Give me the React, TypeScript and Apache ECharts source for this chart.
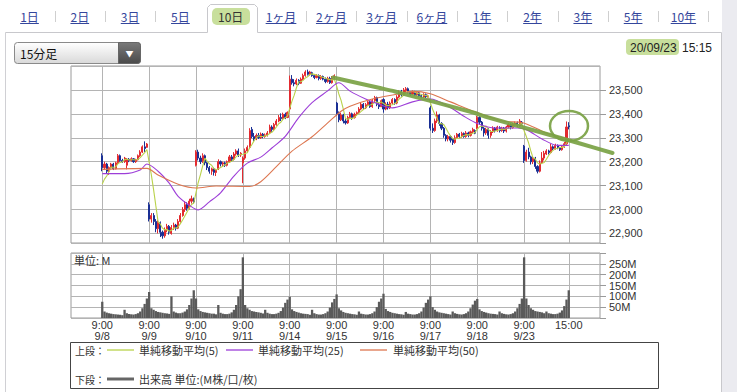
import React, { useEffect, useRef } from 'react';
import * as echarts from 'echarts';

// ---------- data ----------
const DAYS = ['9/8', '9/9', '9/10', '9/11', '9/14', '9/15', '9/16', '9/17', '9/18', '9/23'];
const TIMES = ['9:00', '9:15', '9:30', '9:45', '10:00', '10:15', '10:30', '10:45', '11:00', '11:15',
  '12:30', '12:45', '13:00', '13:15', '13:30', '13:45', '14:00', '14:15', '14:30', '14:45', '15:00'];
const PAD_BEFORE = 14;
const PAD_AFTER = 14;

const TAB_LABELS = ['1日', '2日', '3日', '5日', '10日', '1ヶ月', '2ヶ月', '3ヶ月', '6ヶ月', '1年', '2年', '3年', '5年', '10年'];
const ACTIVE_TAB = '10日';
const PERIOD_LABEL = '15分足';
const DATE_LABEL = '20/09/23';
const TIME_LABEL = '15:15';
const LEGEND_UPPER = ['単純移動平均(5)', '単純移動平均(25)', '単純移動平均(50)'];
const LEGEND_LOWER = '出来高 単位:(M株/口/枚)';

// closes of the last bars of 9/7 (needed for the first MA5 values)
const PRIOR_CLOSES = [23090, 23095, 23085, 23092];

// [open, close, low, high]
const OHLC_0908 = [
  [23225, 23175, 23160, 23235], [23175, 23190, 23165, 23200], [23190, 23160, 23150, 23195], [23160, 23175, 23145, 23180],
  [23175, 23190, 23168, 23195], [23190, 23170, 23165, 23195], [23170, 23195, 23168, 23200], [23195, 23225, 23190, 23232],
  [23225, 23205, 23200, 23230], [23205, 23200, 23195, 23212], [23200, 23215, 23195, 23220], [23185, 23210, 23168, 23215],
  [23210, 23205, 23198, 23215], [23205, 23212, 23200, 23218], [23212, 23200, 23195, 23215], [23200, 23208, 23195, 23212],
  [23208, 23225, 23205, 23230], [23225, 23240, 23220, 23248], [23240, 23262, 23236, 23268], [23262, 23255, 23240, 23285],
  [23260, 23274, 23258, 23278],
];
const OHLC_0909 = [
  [23020, 22960, 22950, 23030], [22960, 22975, 22945, 22985], [22975, 22950, 22935, 22985], [22950, 22920, 22905, 22960],
  [22920, 22945, 22900, 22955], [22945, 22905, 22885, 22950], [22905, 22890, 22878, 22912], [22890, 22915, 22882, 22925],
  [22915, 22930, 22905, 22940], [22930, 22905, 22895, 22935], [22900, 22925, 22895, 22935], [22925, 22935, 22915, 22945],
  [22935, 22922, 22912, 22940], [22922, 22950, 22918, 22960], [22950, 22975, 22945, 22985], [22975, 23000, 22970, 23010],
  [23000, 23020, 22990, 23035], [23020, 23005, 22995, 23030], [23005, 23035, 23000, 23045], [23035, 23045, 23025, 23058],
  [23045, 23032, 23025, 23050],
];
const OHLC_0910 = [
  [23185, 23240, 23180, 23248], [23240, 23215, 23205, 23250], [23215, 23200, 23190, 23225], [23200, 23225, 23195, 23235],
  [23225, 23195, 23185, 23230], [23195, 23175, 23165, 23200], [23175, 23160, 23150, 23182], [23160, 23170, 23145, 23175],
  [23170, 23155, 23142, 23175], [23155, 23165, 23140, 23170], [23170, 23200, 23165, 23210], [23200, 23190, 23180, 23205],
  [23190, 23195, 23180, 23200], [23195, 23185, 23178, 23200], [23185, 23200, 23180, 23205], [23200, 23220, 23195, 23228],
  [23220, 23210, 23200, 23228], [23210, 23232, 23205, 23240], [23232, 23245, 23225, 23252], [23245, 23228, 23220, 23255],
  [23228, 23235, 23220, 23240],
];
const OHLC_0911 = [
  [23195, 23215, 23110, 23222], [23215, 23245, 23208, 23255], [23245, 23260, 23240, 23268], [23260, 23330, 23255, 23340],
  [23335, 23305, 23298, 23345], [23305, 23295, 23285, 23320], [23295, 23310, 23290, 23318], [23310, 23300, 23295, 23320],
  [23300, 23315, 23295, 23322], [23315, 23305, 23298, 23320], [23305, 23312, 23300, 23318], [23312, 23320, 23305, 23328],
  [23320, 23345, 23315, 23355], [23345, 23335, 23325, 23352], [23335, 23355, 23330, 23362], [23355, 23370, 23350, 23378],
  [23370, 23385, 23365, 23395], [23385, 23380, 23370, 23402], [23380, 23398, 23375, 23405], [23398, 23385, 23378, 23405],
  [23385, 23406, 23382, 23410],
];
const OHLC_0914 = [
  [23420, 23545, 23410, 23560], [23545, 23530, 23522, 23562], [23530, 23525, 23515, 23545], [23525, 23540, 23520, 23548],
  [23540, 23528, 23520, 23545], [23528, 23545, 23525, 23552], [23545, 23560, 23540, 23568], [23560, 23575, 23555, 23582],
  [23575, 23565, 23560, 23585], [23565, 23575, 23560, 23580], [23572, 23560, 23555, 23576], [23560, 23552, 23545, 23565],
  [23552, 23560, 23548, 23566], [23560, 23548, 23540, 23565], [23548, 23556, 23542, 23562], [23556, 23545, 23540, 23560],
  [23545, 23535, 23528, 23552], [23535, 23548, 23530, 23555], [23548, 23530, 23525, 23555], [23530, 23550, 23526, 23558],
  [23550, 23559, 23545, 23565],
];
const OHLC_0915 = [
  [23445, 23400, 23392, 23450], [23400, 23375, 23365, 23410], [23375, 23395, 23370, 23405], [23395, 23370, 23360, 23400],
  [23370, 23362, 23355, 23380], [23362, 23385, 23358, 23392], [23385, 23400, 23378, 23408], [23400, 23385, 23375, 23405],
  [23385, 23398, 23380, 23405], [23398, 23405, 23392, 23410], [23405, 23420, 23400, 23428], [23420, 23440, 23415, 23448],
  [23440, 23425, 23418, 23445], [23425, 23438, 23420, 23445], [23438, 23450, 23432, 23455], [23450, 23430, 23425, 23455],
  [23430, 23455, 23425, 23462], [23455, 23468, 23450, 23475], [23468, 23440, 23432, 23472], [23440, 23430, 23420, 23448],
  [23430, 23455, 23428, 23460],
];
const OHLC_0916 = [
  [23460, 23420, 23405, 23465], [23420, 23440, 23415, 23448], [23440, 23425, 23418, 23450], [23425, 23445, 23420, 23452],
  [23445, 23460, 23440, 23466], [23460, 23445, 23438, 23465], [23445, 23470, 23440, 23478], [23470, 23490, 23465, 23498],
  [23490, 23480, 23472, 23500], [23480, 23500, 23475, 23508], [23498, 23505, 23490, 23512], [23505, 23490, 23485, 23510],
  [23490, 23482, 23475, 23495], [23482, 23492, 23478, 23498], [23492, 23480, 23474, 23496], [23480, 23488, 23476, 23494],
  [23488, 23476, 23470, 23492], [23476, 23470, 23465, 23482], [23470, 23480, 23466, 23486], [23480, 23472, 23466, 23485],
  [23472, 23475, 23468, 23480],
];
const OHLC_0917 = [
  [23425, 23340, 23330, 23432], [23340, 23330, 23320, 23360], [23330, 23370, 23325, 23380], [23370, 23395, 23362, 23410],
  [23395, 23360, 23350, 23400], [23360, 23340, 23332, 23365], [23340, 23310, 23300, 23345], [23310, 23295, 23285, 23315],
  [23295, 23305, 23285, 23312], [23305, 23290, 23280, 23310], [23295, 23280, 23270, 23300], [23280, 23300, 23275, 23310],
  [23300, 23315, 23295, 23320], [23315, 23305, 23298, 23320], [23305, 23318, 23300, 23325], [23318, 23305, 23300, 23322],
  [23305, 23320, 23300, 23328], [23320, 23310, 23302, 23325], [23310, 23325, 23305, 23330], [23325, 23335, 23318, 23342],
  [23330, 23319, 23315, 23335],
];
const OHLC_0918 = [
  [23340, 23385, 23335, 23392], [23385, 23365, 23355, 23390], [23365, 23340, 23330, 23370], [23340, 23320, 23305, 23345],
  [23320, 23335, 23312, 23342], [23335, 23310, 23296, 23340], [23310, 23325, 23300, 23332], [23325, 23340, 23320, 23348],
  [23340, 23330, 23322, 23345], [23330, 23345, 23325, 23350], [23342, 23330, 23322, 23348], [23330, 23340, 23325, 23346],
  [23340, 23328, 23320, 23345], [23328, 23345, 23322, 23350], [23345, 23355, 23340, 23362], [23355, 23342, 23335, 23360],
  [23342, 23355, 23338, 23362], [23355, 23362, 23350, 23368], [23362, 23350, 23345, 23368], [23350, 23370, 23345, 23378],
  [23365, 23360, 23352, 23370],
];
const OHLC_0923 = [
  [23265, 23205, 23195, 23270], [23205, 23240, 23200, 23250], [23240, 23220, 23210, 23258], [23220, 23200, 23188, 23225],
  [23200, 23215, 23190, 23222], [23215, 23180, 23170, 23220], [23180, 23160, 23151, 23185], [23160, 23195, 23155, 23205],
  [23195, 23215, 23190, 23240], [23215, 23235, 23205, 23245], [23232, 23245, 23228, 23252], [23245, 23238, 23230, 23250],
  [23238, 23262, 23235, 23275], [23262, 23255, 23248, 23268], [23255, 23268, 23250, 23275], [23268, 23258, 23252, 23272],
  [23258, 23250, 23245, 23262], [23250, 23262, 23246, 23268], [23262, 23275, 23258, 23282], [23275, 23345, 23270, 23368],
  [23350, 23346, 23335, 23365],
];

// volume in millions
const VOL_0908 = [75, 30, 25, 22, 20, 18, 17, 16, 15, 13, 38, 22, 19, 17, 16, 18, 22, 30, 45, 65, 90];
const VOL_0909 = [120, 45, 38, 32, 28, 26, 24, 22, 21, 19, 100, 30, 25, 22, 22, 25, 30, 40, 60, 90, 128];
const VOL_0910 = [90, 40, 32, 28, 26, 24, 22, 20, 20, 17, 60, 24, 20, 18, 18, 20, 26, 38, 60, 100, 133];
const VOL_0911 = [280, 60, 45, 38, 32, 30, 28, 26, 24, 21, 38, 24, 20, 18, 18, 20, 24, 32, 48, 70, 85];
const VOL_0914 = [98, 40, 32, 28, 25, 22, 20, 19, 18, 15, 38, 22, 18, 16, 16, 18, 22, 30, 48, 72, 88];
const VOL_0915 = [109, 45, 35, 28, 24, 22, 20, 18, 17, 15, 30, 20, 18, 16, 16, 18, 22, 30, 50, 75, 90];
const VOL_0916 = [112, 42, 32, 28, 24, 22, 20, 18, 17, 15, 28, 20, 18, 16, 16, 18, 22, 30, 48, 70, 85];
const VOL_0917 = [100, 50, 38, 30, 26, 24, 22, 20, 18, 16, 30, 22, 19, 17, 16, 18, 22, 30, 45, 62, 80];
const VOL_0918 = [88, 40, 32, 28, 25, 22, 20, 19, 18, 16, 30, 22, 19, 17, 16, 18, 22, 30, 45, 65, 90];
const VOL_0923 = [280, 90, 60, 45, 38, 32, 30, 28, 26, 22, 30, 22, 20, 18, 18, 20, 25, 35, 55, 85, 128];

// moving averages: [bar index from 9/8 9:00, value]
const MA25_POINTS = [
  [0, 23150], [10, 23150], [17, 23165], [20, 23190], [25, 23160], [30, 23110], [34, 23055], [39, 23018],
  [43, 22998], [48, 23032], [53, 23070], [59, 23140], [65, 23194], [71, 23219], [76, 23257], [82, 23306],
  [88, 23384], [94, 23447], [101, 23496], [106, 23530], [111, 23495], [118, 23462], [124, 23440], [130, 23425],
  [139, 23450], [147, 23462], [155, 23432], [162, 23390], [168, 23360], [176, 23341], [186, 23341], [190, 23334],
  [197, 23295], [204, 23268], [209, 23268],
];
const MA50_POINTS = [
  [0, 23168], [20, 23172], [25, 23144], [34, 23106], [42, 23090], [51, 23098], [66, 23096], [71, 23116],
  [78, 23179], [85, 23244], [94, 23304], [101, 23362], [107, 23411], [111, 23432], [121, 23462], [132, 23482],
  [139, 23494], [147, 23484], [156, 23450], [168, 23405], [180, 23369], [188, 23364], [199, 23320], [209, 23295],
];

// ---------- derived tables ----------
const OHLC_BY_DAY = [OHLC_0908, OHLC_0909, OHLC_0910, OHLC_0911, OHLC_0914, OHLC_0915, OHLC_0916, OHLC_0917, OHLC_0918, OHLC_0923];
const VOL_BY_DAY = [VOL_0908, VOL_0909, VOL_0910, VOL_0911, VOL_0914, VOL_0915, VOL_0916, VOL_0917, VOL_0918, VOL_0923];

const NFONT = '"Liberation Sans", Arial, sans-serif';
const JFONT = '"Noto Sans CJK JP", "Noto Sans", sans-serif';

function buildOption() {
  const bars: { day: string; time: string }[] = [];
  DAYS.forEach((d) => TIMES.forEach((t) => bars.push({ day: d, time: t })));
  const ohlc = OHLC_BY_DAY.flat();
  const vols = VOL_BY_DAY.flat();
  const n = bars.length;
  const total = PAD_BEFORE + n + PAD_AFTER;

  const categories: string[] = [];
  for (let i = 0; i < PAD_BEFORE; i++) categories.push('pre' + i);
  bars.forEach((b) => categories.push(b.day + ' ' + b.time));
  for (let i = 0; i < PAD_AFTER; i++) categories.push('post' + i);

  const labelMap = new Map<number, string>();
  bars.forEach((b, i) => {
    if (b.time === '9:00') labelMap.set(PAD_BEFORE + i, '9:00\n' + b.day);
  });
  labelMap.set(PAD_BEFORE + n - 1, bars[n - 1].time);

  const empty = (k: number) => Array.from({ length: k }, () => '-' as any);
  const candleData = [...empty(PAD_BEFORE).map(() => ['-', '-', '-', '-']), ...ohlc, ...empty(PAD_AFTER).map(() => ['-', '-', '-', '-'])];
  const volData = [...empty(PAD_BEFORE), ...vols, ...empty(PAD_AFTER)];

  const closes = [...PRIOR_CLOSES, ...ohlc.map((b) => b[1])];
  const ma5: any[] = empty(total);
  for (let i = 0; i < n; i++) {
    let s = 0;
    for (let k = 0; k < 5; k++) s += closes[i + k];
    ma5[PAD_BEFORE + i] = Math.round(s / 5);
  }
  const sparse = (pts: number[][]) => {
    const arr: any[] = empty(total);
    pts.forEach(([i, v]) => (arr[PAD_BEFORE + i] = v));
    return arr;
  };

  const showAt = (idx: number) => labelMap.has(idx);
  const gridLineColor = '#b4b4b4';

  const xAxisBase = (gridIndex: number) => ({
    type: 'category',
    gridIndex,
    data: categories,
    boundaryGap: false,
    axisLine: { show: false },
    axisTick: { show: false },
    splitLine: { show: true, interval: (i: number) => showAt(i), lineStyle: { color: gridLineColor, width: 1 } },
  });

  // ---------- graphic (page chrome, legend, annotations) ----------
  const g: any[] = [];
  const txt = (text: string, x: number, y: number, o: any = {}) => ({
    type: 'text', x, y, z: o.z ?? 10,
    style: {
      text, fill: o.fill ?? '#333', fontSize: o.fontSize ?? 11, fontFamily: o.fontFamily ?? JFONT,
      fontWeight: o.fontWeight ?? 'normal',
      textAlign: o.align ?? 'left', textVerticalAlign: 'middle', align: o.align ?? 'left', verticalAlign: 'middle',
    },
  });
  const line = (x1: number, y1: number, x2: number, y2: number, stroke: string, lineWidth = 1, z = 10) => ({
    type: 'line', z, shape: { x1, y1, x2, y2 }, style: { stroke, lineWidth },
  });

  // right strip and panel borders
  g.push({ type: 'rect', z: 1, shape: { x: 722, y: 0, width: 15, height: 392 }, style: { fill: '#ebebf0' } });
  g.push(line(721.5, 32.5, 721.5, 392, '#c8c8cc'));
  g.push(line(5.5, 32.5, 5.5, 392, '#d0d0d4'));
  g.push(line(5.5, 32.5, 207.5, 32.5, '#c8c8cc'));
  g.push(line(257.5, 32.5, 721.5, 32.5, '#c8c8cc'));
  g.push({
    type: 'polyline', z: 10,
    shape: { points: [[207.5, 32.5], [207.5, 7.5], [210.5, 4.5], [254.5, 4.5], [257.5, 7.5], [257.5, 32.5]] },
    style: { stroke: '#c8c8cc', lineWidth: 1, fill: 'none' },
  });

  // tabs
  const tabCx = (i: number) => 29.5 + i * 50.3;
  const approxW = (s: string) => Array.from(s).reduce((a, c) => a + (/[0-9]/.test(c) ? 6.7 : 12), 0);
  TAB_LABELS.forEach((t, i) => {
    const cx = tabCx(i);
    if (t === ACTIVE_TAB) {
      g.push({ type: 'rect', z: 9, shape: { x: 212, y: 8, width: 38, height: 17, r: 5 }, style: { fill: '#c8df9c' } });
      g.push(txt(t, cx, 16, { align: 'center', fill: '#333', fontSize: 12 }));
    } else {
      g.push(txt(t, cx, 16, { align: 'center', fill: '#34469c', fontSize: 12 }));
      const w = approxW(t);
      g.push(line(cx - w / 2, 23.5, cx + w / 2, 23.5, '#34469c', 1));
    }
    const next = TAB_LABELS[i + 1];
    if (t !== ACTIVE_TAB && next !== ACTIVE_TAB) {
      const sx = next ? (cx + tabCx(i + 1)) / 2 : cx + 25;
      g.push(line(Math.round(sx) + 0.5, 11, Math.round(sx) + 0.5, 22, '#cfcfcf', 1));
    }
  });

  // period dropdown
  g.push({
    type: 'rect', z: 10, shape: { x: 14.5, y: 42.5, width: 126, height: 21, r: 3 },
    style: {
      fill: new echarts.graphic.LinearGradient(0, 0, 0, 1, [{ offset: 0, color: '#ffffff' }, { offset: 1, color: '#d9d9d9' }]),
      stroke: '#8a8a8a', lineWidth: 1,
    },
  });
  g.push({
    type: 'rect', z: 11, shape: { x: 118.5, y: 42.5, width: 22, height: 21, r: [0, 3, 3, 0] },
    style: {
      fill: new echarts.graphic.LinearGradient(0, 0, 0, 1, [{ offset: 0, color: '#7a7a7a' }, { offset: 1, color: '#4a4a4a' }]),
      stroke: '#666', lineWidth: 1,
    },
  });
  g.push(txt('▼', 129.5, 53, { align: 'center', fill: '#fff', fontSize: 8, z: 12 }));
  g.push(txt(PERIOD_LABEL, 20, 53, { fill: '#111', fontSize: 12 }));

  // date
  g.push({ type: 'rect', z: 9, shape: { x: 626, y: 39, width: 53, height: 16, r: 4 }, style: { fill: '#c8df9c' } });
  g.push(txt(DATE_LABEL, 630, 47.5, { fill: '#222', fontSize: 12, fontFamily: NFONT }));
  g.push(txt(TIME_LABEL, 682, 47.5, { fill: '#222', fontSize: 12, fontFamily: NFONT }));

  // volume unit
  g.push(txt('単位: M', 74, 260, { fontSize: 11, fill: '#333' }));

  // legend box
  g.push({ type: 'rect', z: 10, shape: { x: 70.5, y: 342.5, width: 588, height: 46 }, style: { fill: '#fff', stroke: '#444', lineWidth: 1 } });
  g.push(txt('上段：', 75, 350, { fontSize: 10 }));
  const legendColors = ['#b9d24b', '#9d3ed8', '#dd7650'];
  const legendLineX = [107, 226, 360];
  const legendTextX = [139, 258, 393];
  LEGEND_UPPER.forEach((t, i) => {
    g.push(line(legendLineX[i], 350, legendLineX[i] + 27, 350, legendColors[i], 1.3, 11));
    g.push(txt(t, legendTextX[i], 350, { fontSize: 11 }));
  });
  g.push(txt('下段：', 75, 379, { fontSize: 10 }));
  g.push(line(107, 379, 134, 379, '#666', 3, 11));
  g.push(txt(LEGEND_LOWER, 139, 379, { fontSize: 11 }));

  // hand-drawn annotations (trend line and circle)
  g.push({
    type: 'polyline', z: 100,
    shape: { points: [[333, 77.5], [380, 88], [395, 91.5], [475, 113], [485, 116.5], [580, 143.5], [612.5, 153]], smooth: 0.3 },
    style: { stroke: 'rgba(122,162,68,0.92)', lineWidth: 4, lineCap: 'round', lineJoin: 'round', fill: 'none' },
  });
  g.push({
    type: 'ellipse', z: 100, shape: { cx: 569, cy: 126, rx: 19, ry: 15 },
    style: { stroke: 'rgba(122,162,68,0.92)', lineWidth: 2.5, fill: 'none' },
  });

  return {
    animation: false,
    backgroundColor: '#ffffff',
    grid: [
      { left: 71, top: 66, width: 529, height: 177, show: true, borderColor: '#9a9a9a', borderWidth: 1, backgroundColor: 'transparent' },
      { left: 71, top: 253, width: 529, height: 65, show: true, borderColor: '#9a9a9a', borderWidth: 1, backgroundColor: 'transparent' },
    ],
    xAxis: [
      { ...xAxisBase(0), axisLabel: { show: false } },
      {
        ...xAxisBase(1),
        axisLabel: {
          show: true, interval: (i: number) => showAt(i), formatter: (_v: string, i: number) => labelMap.get(i) ?? '',
          color: '#333', fontSize: 11, fontFamily: NFONT, lineHeight: 11, margin: 1,
        },
      },
    ],
    yAxis: [
      {
        type: 'value', gridIndex: 0, position: 'right', min: 22860, max: 23600, splitNumber: 7, minInterval: 100, maxInterval: 100,
        axisLine: { show: false },
        axisTick: { show: true, length: 6, lineStyle: { color: '#9a9a9a' } },
        axisLabel: {
          color: '#333', fontSize: 11, fontFamily: NFONT, margin: 9, showMaxLabel: false,
          formatter: (v: number) => (v % 100 === 0 && v < 23600 ? v.toLocaleString('en-US') : ''),
        },
        splitLine: { lineStyle: { color: gridLineColor, width: 1 } },
      },
      {
        type: 'value', gridIndex: 1, position: 'right', min: 0, max: 300, interval: 50,
        axisLine: { show: false },
        axisTick: { show: true, length: 6, lineStyle: { color: '#9a9a9a' } },
        axisLabel: {
          color: '#333', fontSize: 11, fontFamily: NFONT, margin: 9, lineHeight: 11,
          formatter: (v: number) => (v > 0 && v < 300 ? v + 'M' : ''),
        },
        splitLine: { lineStyle: { color: gridLineColor, width: 1 } },
      },
    ],
    series: [
      {
        name: '株価', type: 'candlestick', xAxisIndex: 0, yAxisIndex: 0, data: candleData, barWidth: 1.6,
        itemStyle: { color: '#e32b30', color0: '#1a2f94', borderColor: '#e32b30', borderColor0: '#1a2f94', borderWidth: 1 },
      },
      {
        name: LEGEND_UPPER[0], type: 'line', xAxisIndex: 0, yAxisIndex: 0, data: ma5, symbol: 'none',
        lineStyle: { color: legendColors[0], width: 1.1 }, z: 3,
      },
      {
        name: LEGEND_UPPER[1], type: 'line', xAxisIndex: 0, yAxisIndex: 0, data: sparse(MA25_POINTS), symbol: 'none',
        connectNulls: true, smooth: 0.3, lineStyle: { color: legendColors[1], width: 1.1 }, z: 3,
      },
      {
        name: LEGEND_UPPER[2], type: 'line', xAxisIndex: 0, yAxisIndex: 0, data: sparse(MA50_POINTS), symbol: 'none',
        connectNulls: true, smooth: 0.3, lineStyle: { color: legendColors[2], width: 1.1 }, z: 3,
      },
      {
        name: '出来高', type: 'bar', xAxisIndex: 1, yAxisIndex: 1, data: volData, barWidth: 2.3,
        itemStyle: { color: '#5a5a5a' },
      },
    ],
    graphic: { elements: g },
  };
}

export default function App() {
  const ref = useRef<HTMLDivElement>(null);
  useEffect(() => {
    document.body.style.margin = '0';
    const chart = echarts.init(ref.current!, null, { renderer: 'svg' });
    chart.setOption(buildOption() as any);
    return () => chart.dispose();
  }, []);
  return <div ref={ref} style={{ width: 737, height: 392 }} />;
}
